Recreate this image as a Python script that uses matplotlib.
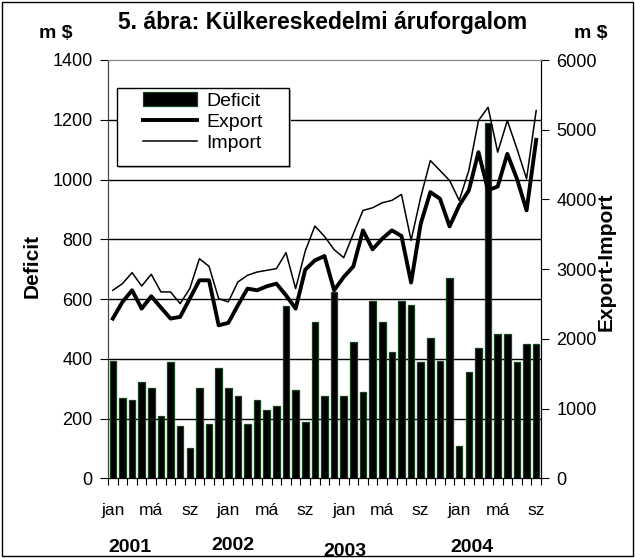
import numpy as np
import matplotlib
matplotlib.use('Agg')
import matplotlib.pyplot as plt
from matplotlib.patches import Rectangle

plt.rcParams['font.family'] = ['Liberation Sans', 'DejaVu Sans']

# monthly data, Jan 2001 - Sep 2004 (m$)
deficit = [394, 269, 261, 322, 302, 209, 389, 176, 102, 302, 183, 369,
           303, 276, 183, 261, 230, 243, 576, 297, 189, 522,
           276, 622, 276, 456, 289, 594, 522, 422, 594, 581, 389, 469,
           394, 669, 109, 356, 437, 1189, 482, 482, 389, 449, 449]
export = [2291, 2529, 2697, 2434, 2611, 2449, 2291, 2315, 2578, 2840, 2840, 2195,
          2229, 2482, 2721, 2697, 2754, 2792, 2625, 2434, 2993, 3126,
          3188, 2697, 2888, 3040, 3556, 3284, 3437, 3556, 3475, 2807, 3652, 4105,
          4010, 3613, 3914, 4129, 4678, 4129, 4186, 4654, 4296, 3842, 4855]
imports = [2697, 2792, 2950, 2758, 2926, 2673, 2673, 2506, 2721, 3150, 3040, 2578,
           2530, 2816, 2912, 2959, 2983, 3007, 3237, 2721, 3260, 3618,
           3470, 3280, 3165, 3508, 3842, 3880, 3952, 3986, 4072, 3413, 4033, 4558,
           4415, 4272, 3986, 4415, 5131, 5322, 4678, 5131, 4726, 4296, 5275]
month_labels = ['jan', 'má', 'sz'] * 4
years = ['2001', '2002', '2003', '2004']
year_pos = [(130, 548), (233, 545), (345, 551), (472, 548)]

W, H = 635, 558
AX_L, AX_R, AX_T, AX_B = 108, 541, 60, 478.3


def ax_coords(px, py):
    return (px - AX_L) / (AX_R - AX_L), (AX_B - py) / (AX_B - AX_T)


x = np.arange(len(deficit))

fig = plt.figure(figsize=(W / 100, H / 100), dpi=100)
ax = fig.add_axes([AX_L / W, 1 - AX_B / H, (AX_R - AX_L) / W, (AX_B - AX_T) / H])
ax2 = ax.twinx()

bars = ax.bar(x, deficit, width=0.68, color='black', edgecolor='#14451a',
              linewidth=0.9, label='Deficit', zorder=2)
ax.set_xlim(-0.5, len(deficit) - 0.5)
ax.set_ylim(0, 1400)
ax.set_yticks(range(0, 1401, 200))
for v in range(200, 1400, 200):
    ax.axhline(v, color='black', linewidth=1, zorder=1)

l1, = ax2.plot(x, export, color='black', linewidth=2.8, label='Export')
l2, = ax2.plot(x, imports, color='black', linewidth=1.1, label='Import')
ax2.set_ylim(0, 6000)
ax2.set_yticks(range(0, 6001, 1000))

# ticks
ax.set_xticks(np.arange(-0.5, len(deficit), 1))
ax.set_xticklabels([])
ax.set_xticks(np.arange(0, len(deficit), 4), minor=True)
ax.set_xticklabels(month_labels, minor=True)
ax.tick_params(axis='x', which='major', direction='out', length=5, width=0.8)
ax.tick_params(axis='x', which='minor', length=0, pad=18, labelsize=12.5)
ax.tick_params(axis='y', direction='out', length=6, width=0.8, pad=5, labelsize=13)
ax2.tick_params(axis='y', direction='out', length=6, width=0.8, pad=5, labelsize=13)

for a in (ax, ax2):
    a.spines['top'].set_color('#888888')
    a.spines['left'].set_color('#444444')
    a.spines['right'].set_color('black')

# legend box (wide frame drawn by hand)
x0, y1 = ax_coords(117, 88)
x1, y0 = ax_coords(289, 166)
sx, sy = ax_coords(119, 90)
ax2.add_patch(Rectangle((sx, sy - (y1 - y0)), x1 - x0, y1 - y0, transform=ax2.transAxes,
                        facecolor='#b5b5b5', edgecolor='none', zorder=4))
ax2.add_patch(Rectangle((x0, y0), x1 - x0, y1 - y0, transform=ax2.transAxes,
                        facecolor='white', edgecolor='black', linewidth=1, zorder=4.5))
leg = ax2.legend(handles=[bars, l1, l2], loc='upper left',
                 bbox_to_anchor=ax_coords(143, 92), fontsize=14, frameon=False,
                 handlelength=2.8, handletextpad=0.45, labelspacing=0.18,
                 borderpad=0, borderaxespad=0)
leg.set_zorder(5)

fig.text(323 / W, 1 - 22 / H, '5. ábra: Külkereskedelmi áruforgalom',
         ha='center', va='center', fontsize=16.5, fontweight='bold')
fig.text(56 / W, 1 - 33 / H, 'm $', ha='center', va='center',
         fontsize=14, fontweight='bold')
fig.text(591 / W, 1 - 33 / H, 'm $', ha='center', va='center',
         fontsize=14, fontweight='bold')
fig.text(32 / W, 1 - 266 / H, 'Deficit', rotation=90, ha='center',
         va='center', fontsize=15, fontweight='bold')
fig.text(606 / W, 1 - 262 / H, 'Export-Import', rotation=90, ha='center',
         va='center', fontsize=15, fontweight='bold')
for yr, (px, py) in zip(years, year_pos):
    fig.text(px / W, 1 - py / H, yr, ha='center', va='center',
             fontsize=14, fontweight='bold')

fig.patches.append(Rectangle((0.003, 0.003), 0.994, 0.994, transform=fig.transFigure,
                             fill=False, edgecolor='black', linewidth=1))

fig.savefig('out.png', dpi=100)
